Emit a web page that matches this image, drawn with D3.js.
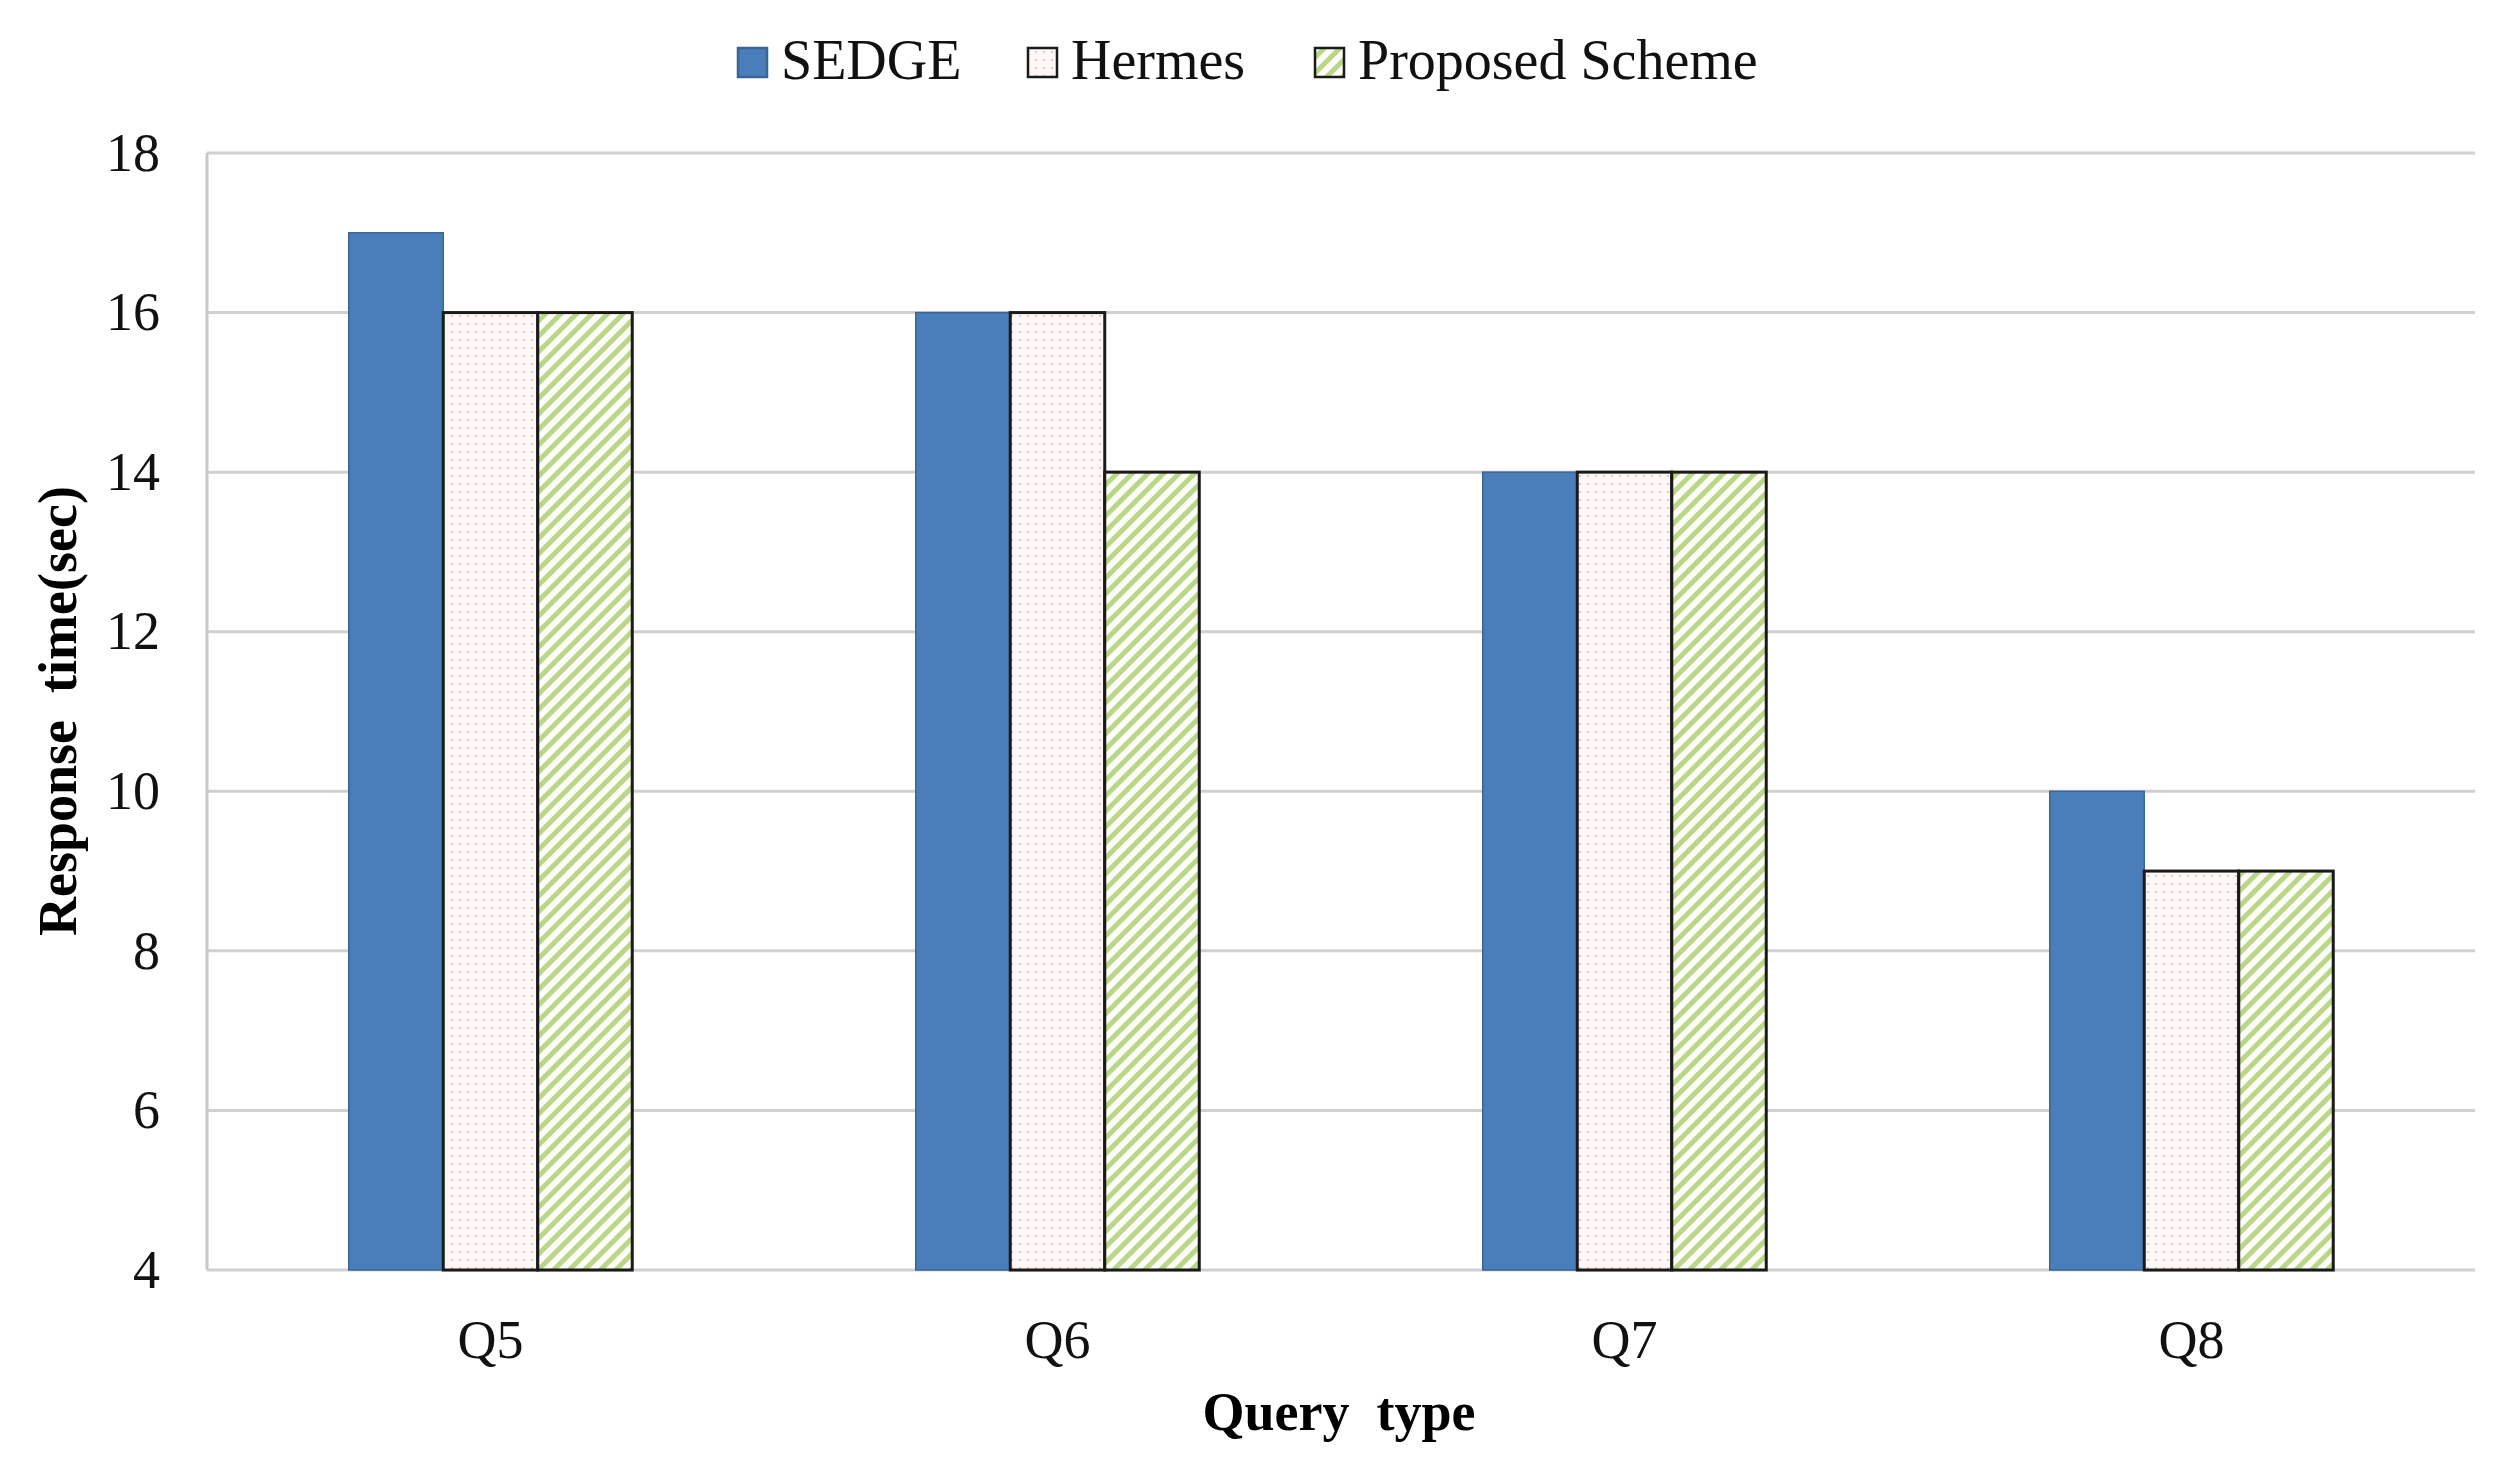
<!DOCTYPE html>
<html><head><meta charset="utf-8">
<script src="https://cdn.jsdelivr.net/npm/d3@7"></script>
<style>body{margin:0;background:#fff;} text{font-family:"Liberation Serif","Times New Roman",serif;}</style>
</head><body>
<svg id="chart" width="2515" height="1473"></svg>
<script>
const categories = ["Q5", "Q6", "Q7", "Q8"];
const seriesNames = ["SEDGE", "Hermes", "Proposed Scheme"];
const sedge = [17, 16, 14, 10];
const hermes = [16, 16, 14, 9];
const proposed = [16, 14, 14, 9];
const yTicks = [4, 6, 8, 10, 12, 14, 16, 18];

(function(){
const svg = d3.select("#chart");
const pLeft = 207, pRight = 2475, pTop = 153, pBottom = 1270;

const defs = svg.append("defs");
const dots = defs.append("pattern").attr("id","dots").attr("patternUnits","userSpaceOnUse").attr("width",8).attr("height",8);
dots.append("rect").attr("width",8).attr("height",8).attr("fill","#fdf7f7");
dots.append("rect").attr("x",3).attr("y",3).attr("width",2).attr("height",2).attr("fill","#e8c4c4");
const hatch = defs.append("pattern").attr("id","hatch").attr("patternUnits","userSpaceOnUse").attr("width",11).attr("height",11).attr("patternTransform","rotate(45)");
hatch.append("rect").attr("width",11).attr("height",11).attr("fill","#fbfdf6");
hatch.append("rect").attr("x",0).attr("y",0).attr("width",5).attr("height",11).attr("fill","#bcd689");

const fills = ["#4a7ebb", "url(#dots)", "url(#hatch)"];
const strokes = ["#3b6496", "#1a1a1a", "#1a1a1a"];
const strokeW = [1.5, 3, 3];

const x0 = d3.scaleBand().domain(categories).range([pLeft, pRight]).paddingInner(0.5).paddingOuter(0.25);
const x1 = d3.scaleBand().domain(seriesNames).range([0, x0.bandwidth()]);
const y = d3.scaleLinear().domain([4, 18]).range([pBottom, pTop]);

svg.append("g").selectAll("line").data(yTicks).join("line")
  .attr("x1", pLeft).attr("x2", pRight).attr("y1", d => y(d)).attr("y2", d => y(d))
  .attr("stroke", "#d0d0d0").attr("stroke-width", 3);
svg.append("line").attr("x1", pLeft).attr("x2", pLeft).attr("y1", pTop).attr("y2", pBottom)
  .attr("stroke", "#c8c8c8").attr("stroke-width", 3);

const yAxis = d3.axisLeft(y).tickValues(yTicks).tickSize(0).tickPadding(47);
const ga = svg.append("g").attr("transform", `translate(${pLeft},0)`).call(yAxis);
ga.select(".domain").remove();
ga.selectAll("text").attr("font-size", 54).attr("fill", "#111").attr("font-family", "Liberation Serif");

const data = [sedge, hermes, proposed];
categories.forEach((c, i) => {
  seriesNames.forEach((s, j) => {
    svg.append("rect")
      .attr("x", x0(c) + x1(s))
      .attr("y", y(data[j][i]))
      .attr("width", x1.bandwidth())
      .attr("height", y(4) - y(data[j][i]))
      .attr("fill", fills[j]).attr("stroke", strokes[j]).attr("stroke-width", strokeW[j]);
  });
});

const xAxis = d3.axisBottom(x0).tickSize(0).tickPadding(50);
const gx = svg.append("g").attr("transform", `translate(0,${pBottom})`).call(xAxis);
gx.select(".domain").remove();
gx.selectAll("text").attr("font-size", 54).attr("fill", "#111").attr("font-family", "Liberation Serif");

svg.append("text").attr("x", 1339).attr("y", 1430).attr("text-anchor", "middle")
  .attr("font-size", 54).attr("font-weight", "bold").style("white-space", "pre").text("Query  type");
svg.append("text").attr("transform", "translate(76,711) rotate(-90)").attr("text-anchor", "middle")
  .attr("font-size", 54).attr("font-weight", "bold").style("white-space", "pre").text("Response  time(sec)");

const legX = [738, 1028, 1315];
const lg = svg.append("g");
seriesNames.forEach((s, j) => {
  lg.append("rect").attr("x", legX[j]).attr("y", 48).attr("width", 29).attr("height", 29)
    .attr("fill", fills[j]).attr("stroke", j === 0 ? "#3b6496" : "#1a1a1a").attr("stroke-width", 2.5);
  lg.append("text").attr("x", legX[j] + 43).attr("y", 79).attr("font-size", 56).attr("fill", "#111").text(s);
});
})();
</script>
</body></html>
